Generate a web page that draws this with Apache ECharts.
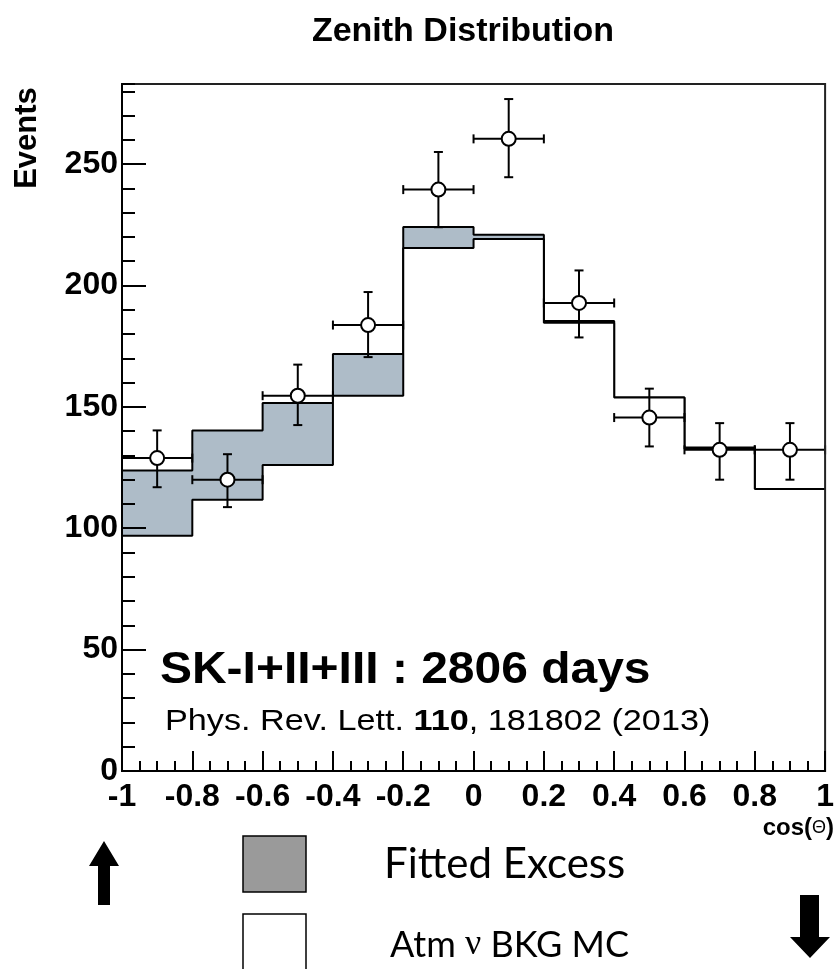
<!DOCTYPE html>
<html>
<head>
<meta charset="utf-8">
<script src="https://cdn.jsdelivr.net/npm/echarts@6/dist/echarts.min.js"></script>
<style>
  html, body { margin: 0; padding: 0; background: #fff; }
  #chart { width: 837px; height: 969px; }
</style>
</head>
<body>
<div id="chart"></div>
<script>
// Zenith angle histogram: MC background + fitted excess, with observed events.
const binLeftEdges = [-1, -0.8, -0.6, -0.4, -0.2, 0, 0.2, 0.4, 0.6, 0.8];
const binRightEnd = 1;
const totalMC = [123.8, 140.3, 151.6, 171.8, 224.1, 220.9, 185.4, 153.9, 133.3, 116.2];
const bkgMC   = [96.9, 111.7, 126.1, 154.6, 215.4, 219.2, 184.6, 153.9, 132.6, 116.2];

const binCenters = [-0.9, -0.7, -0.5, -0.3, -0.1, 0.1, 0.3, 0.5, 0.7, 0.9];
const binHalfWidth = 0.1;
const dataEvents = [128.9, 120.0, 154.6, 183.7, 239.5, 260.4, 192.8, 145.6, 132.3, 132.3];
const dataErrHigh = [140.3, 130.5, 167.4, 197.3, 255.0, 276.8, 206.2, 157.5, 143.3, 143.3];
const dataErrLow  = [116.9, 108.7, 142.5, 170.5, 224.0, 244.6, 178.6, 133.7, 120.0, 120.0];

const yMax = 283;
const yMajorStep = 50;
const yMinorStep = 10;
const xMajorStep = 0.2;

function stepPoints(values) {
  const pts = binLeftEdges.map((x, i) => [x, values[i]]);
  pts.push([binRightEnd, values[values.length - 1]]);
  return pts;
}

const errorRows = binCenters.map((x, i) => [
  x, dataEvents[i], dataErrLow[i], dataErrHigh[i], x - binHalfWidth, x + binHalfWidth
]);

const chart = echarts.init(document.getElementById('chart'), null, { renderer: 'canvas' });

const tickFont = { fontFamily: '"Liberation Sans", Arial, sans-serif', fontWeight: 'bold', fontSize: 32, color: '#000' };

const option = {
  animation: false,
  backgroundColor: '#fff',
  grid: {
    left: 122, right: 4, top: 84, bottom: 198,
    show: true, borderColor: '#222', borderWidth: 2, backgroundColor: 'transparent', z: 20
  },
  xAxis: {
    type: 'value', min: -1, max: 1, interval: xMajorStep, z: 20,
    axisLine: { show: true, onZero: false, lineStyle: { color: '#000', width: 2 } },
    axisTick: { show: true, inside: true, length: 20, lineStyle: { color: '#000', width: 2 } },
    minorTick: { show: true, splitNumber: 4, length: 10, lineStyle: { color: '#000', width: 2 } },
    splitLine: { show: false },
    axisLabel: Object.assign({ margin: 10 }, tickFont)
  },
  yAxis: [
    {
      type: 'value', min: 0, max: yMax, interval: yMajorStep, z: 20,
      axisLine: { show: true, onZero: false, lineStyle: { color: '#000', width: 2 } },
      axisTick: { show: true, inside: true, length: 24, lineStyle: { color: '#000', width: 2 } },
      splitLine: { show: false },
      axisLabel: Object.assign({ margin: 4, showMaxLabel: false }, tickFont)
    },
    {
      type: 'value', min: 0, max: yMax, interval: yMinorStep, position: 'left', offset: 0, z: 20,
      axisLine: { show: false, onZero: false },
      axisTick: { show: true, inside: true, length: 13, lineStyle: { color: '#000', width: 2 } },
      splitLine: { show: false },
      axisLabel: { show: false }
    }
  ],
  series: [
    {
      name: 'Fitted Excess',
      type: 'line', step: 'end', data: stepPoints(totalMC),
      symbol: 'none', z: 2,
      lineStyle: { color: '#000', width: 2 },
      areaStyle: { color: '#aebcc8', opacity: 1 }
    },
    {
      name: 'Atm BKG MC',
      type: 'line', step: 'end', data: stepPoints(bkgMC),
      symbol: 'none', z: 3,
      lineStyle: { color: '#000', width: 2 },
      areaStyle: { color: '#ffffff', opacity: 1 }
    },
    {
      name: 'Data errors',
      type: 'custom', z: 4,
      data: errorRows,
      renderItem: function (params, api) {
        const c = api.coord([api.value(0), api.value(1)]);
        const lo = api.coord([api.value(0), api.value(2)]);
        const hi = api.coord([api.value(0), api.value(3)]);
        const l = api.coord([api.value(4), api.value(1)]);
        const r = api.coord([api.value(5), api.value(1)]);
        const cap = 4.5;
        const st = { stroke: '#000', lineWidth: 2 };
        const seg = (x1, y1, x2, y2) => ({ type: 'line', shape: { x1, y1, x2, y2 }, style: st });
        return {
          type: 'group',
          children: [
            seg(c[0], lo[1], c[0], hi[1]),
            seg(c[0] - cap, lo[1], c[0] + cap, lo[1]),
            seg(c[0] - cap, hi[1], c[0] + cap, hi[1]),
            seg(l[0], c[1], r[0], c[1]),
            seg(l[0], c[1] - cap, l[0], c[1] + cap),
            seg(r[0], c[1] - cap, r[0], c[1] + cap)
          ]
        };
      }
    },
    {
      name: 'Data',
      type: 'scatter', z: 5,
      data: binCenters.map((x, i) => [x, dataEvents[i]]),
      symbol: 'circle', symbolSize: 14,
      itemStyle: { color: '#fff', borderColor: '#000', borderWidth: 2, opacity: 1 }
    }
  ],
  graphic: {
    elements: [
      {
        type: 'text', x: 463, y: 32, z: 100,
        style: { text: 'Zenith Distribution', align: 'center', verticalAlign: 'middle',
          font: 'bold 34px "Liberation Sans", Arial, sans-serif', fill: '#000' }
      },
      {
        type: 'text', x: 27, y: 138, rotation: Math.PI / 2, z: 100,
        style: { text: 'Events', align: 'center', verticalAlign: 'middle',
          font: 'bold 31px "Liberation Sans", Arial, sans-serif', fill: '#000' }
      },
      {
        type: 'text', x: 834, y: 828, z: 100,
        style: {
          text: '{a|cos(}{b|Θ}{a|)}', align: 'right', verticalAlign: 'middle',
          rich: {
            a: { font: 'bold 24px "Liberation Sans", Arial, sans-serif', fill: '#000' },
            b: { font: '18px "Liberation Sans", Arial, sans-serif', fill: '#000' }
          }
        }
      },
      {
        type: 'text', x: 160, y: 671, z: 100, scaleX: 1.09,
        style: { text: 'SK-I+II+III : 2806 days', align: 'left', verticalAlign: 'middle',
          font: 'bold 44px "Liberation Sans", Arial, sans-serif', fill: '#000' }
      },
      {
        type: 'text', x: 165, y: 722, z: 100, scaleX: 1.18,
        style: {
          text: '{n|Phys. Rev. Lett. }{b|110}{n|, 181802 (2013)}', align: 'left', verticalAlign: 'middle',
          rich: {
            n: { font: '29px "Liberation Sans", Arial, sans-serif', fill: '#000' },
            b: { font: 'bold 29px "Liberation Sans", Arial, sans-serif', fill: '#000' }
          }
        }
      },
      {
        type: 'rect', z: 100, shape: { x: 243, y: 836, width: 63, height: 56 },
        style: { fill: '#9a9a9a', stroke: '#000', lineWidth: 1.5 }
      },
      {
        type: 'rect', z: 100, shape: { x: 243, y: 914, width: 63, height: 60 },
        style: { fill: '#fff', stroke: '#000', lineWidth: 1.5 }
      },
      {
        type: 'text', x: 384, y: 864, z: 100,
        style: { text: 'Fitted Excess', align: 'left', verticalAlign: 'middle',
          font: '42px Lato, "Open Sans", sans-serif', fill: '#000' }
      },
      {
        type: 'text', x: 390, y: 945, z: 100,
        style: {
          text: '{n|Atm }{g|ν}{n| BKG MC}', align: 'left', verticalAlign: 'middle',
          rich: {
            n: { font: '36px Lato, "Open Sans", sans-serif', fill: '#000' },
            g: { font: '36px "Liberation Serif", serif', fill: '#000' }
          }
        }
      },
      {
        type: 'polygon', z: 100,
        shape: { points: [[104, 841], [119, 866], [110, 866], [110, 905], [98, 905], [98, 866], [89, 866]] },
        style: { fill: '#000' }
      },
      {
        type: 'polygon', z: 100,
        shape: { points: [[800, 895], [819, 895], [819, 937], [830, 937], [810, 958], [790, 937], [800, 937]] },
        style: { fill: '#000' }
      }
    ]
  }
};

chart.setOption(option);
</script>
</body>
</html>
